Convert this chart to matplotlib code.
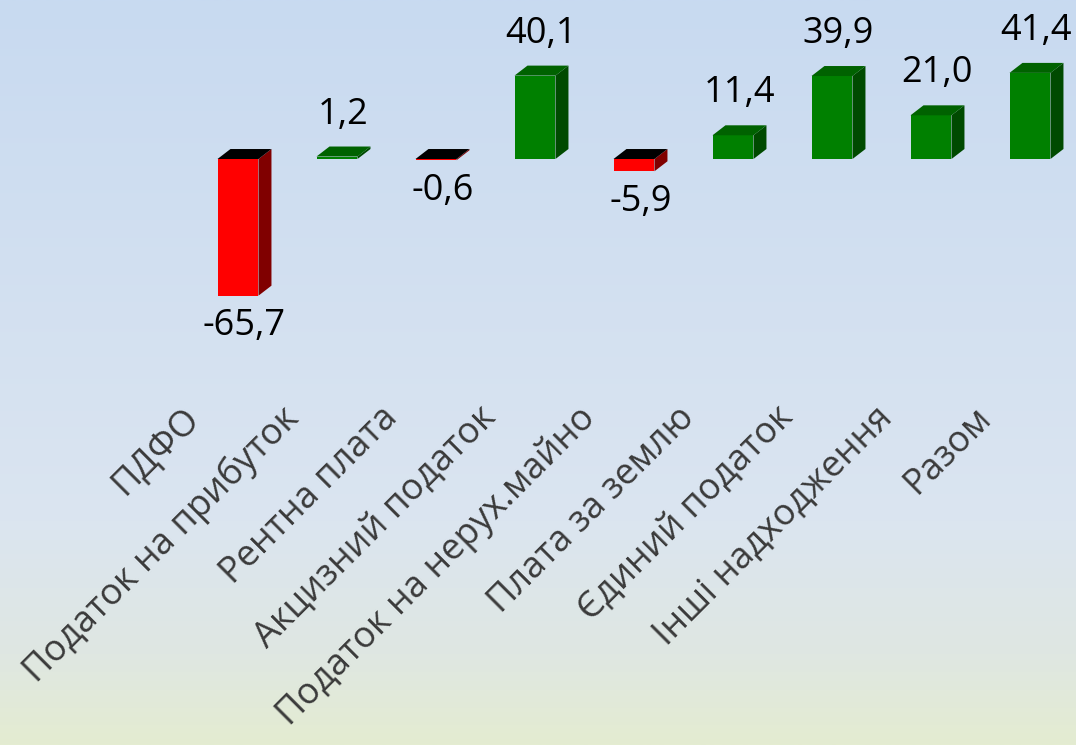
import numpy as np
from matplotlib import pyplot as plt
from matplotlib.colors import LinearSegmentedColormap

categories = [
    "ПДФО",
    "Податок на прибуток",
    "Рентна плата",
    "Акцизний податок",
    "Податок на нерух.майно",
    "Плата за землю",
    "Єдиний податок",
    "Інші надходження",
    "Разом",
]
values = [-65.7, 1.2, -0.6, 40.1, -5.9, 11.4, 39.9, 21.0, 41.4]
labels = ["-65,7", "1,2", "-0,6", "40,1", "-5,9", "11,4", "39,9", "21,0", "41,4"]

plt.rcParams["font.family"] = ["Open Sans", "DejaVu Sans"]

fig = plt.figure(figsize=(10.76, 7.45), dpi=100)

# background gradient
bg = fig.add_axes([0, 0, 1, 1])
cmap = LinearSegmentedColormap.from_list(
    "bg",
    [(0.0, "#e4ecd1"), (0.12, "#dfe7e2"), (0.3, "#dbe5f0"), (1.0, "#c8daf1")],
)
grad = np.linspace(0, 1, 256).reshape(-1, 1)
bg.imshow(grad, aspect="auto", cmap=cmap, origin="lower", extent=[0, 1, 0, 1])
bg.axis("off")

ax = fig.add_axes([0, 0, 1, 1])
ax.patch.set_alpha(0)
ax.axis("off")
# pixel-ish mapping: bar i centred at 238 + 99*i px, zero line at 159 px
ax.set_xlim(-238 / 99, (1076 - 238) / 99)
ax.set_ylim(-(745 - 159) / 2.08, 159 / 2.08)

w = 0.414
dx = 0.131
dy = 4.8

for i, v in enumerate(values):
    y0, y1 = min(0, v), max(0, v)
    if v >= 0:
        front, side, top = "#008000", "#004a00", "#006200"
    else:
        front, side, top = "#ff0000", "#800000", "#000000"
    xl, xr = i - w / 2, i + w / 2
    ax.fill([xl, xr, xr, xl], [y0, y0, y1, y1], color=front, lw=0)
    ax.fill([xr, xr + dx, xr + dx, xr], [y0, y0 + dy, y1 + dy, y1], color=side, lw=0)
    ax.fill([xl, xr, xr + dx, xl + dx], [y1, y1, y1 + dy, y1 + dy], color=top, lw=0)
    if v >= 0:
        ax.annotate(labels[i], (i + dx / 2, y1 + dy), xytext=(0, 10),
                    textcoords="offset points", ha="center", va="bottom",
                    fontsize=26, color="black")
    else:
        ax.annotate(labels[i], (i + dx / 2, y0), xytext=(0, -9),
                    textcoords="offset points", ha="center", va="top",
                    fontsize=26, color="black")

for i, c in enumerate(categories):
    ax.text(i - 0.44, -122, c, rotation=45, rotation_mode="anchor",
            ha="right", va="center", fontsize=26, color="#3a3a3a")

fig.savefig("out.png", dpi=100)
